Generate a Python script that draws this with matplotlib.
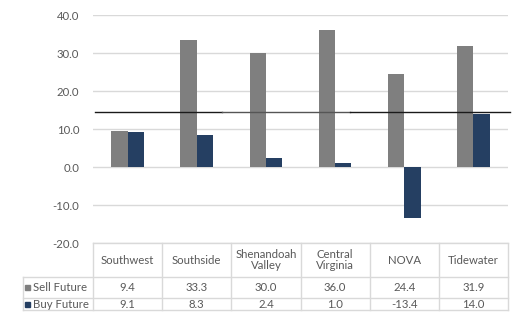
import matplotlib
matplotlib.use("Agg")
import matplotlib.pyplot as plt
import numpy as np
from matplotlib.patches import Rectangle
from matplotlib.lines import Line2D

categories = ["Southwest", "Southside", "Shenandoah\nValley", "Central\nVirginia", "NOVA", "Tidewater"]
sell_future = [9.4, 33.3, 30.0, 36.0, 24.4, 31.9]
buy_future = [9.1, 8.3, 2.4, 1.0, -13.4, 14.0]
series_names = ["Sell Future", "Buy Future"]
reference_level = 14.6
y_ticks = [-20.0, -10.0, 0.0, 10.0, 20.0, 30.0, 40.0]

plt.rcParams['font.family'] = ['Lato', 'DejaVu Sans']

W, H = 523, 323
fig = plt.figure(figsize=(W / 100, H / 100), dpi=100)
fig.patch.set_facecolor("white")

px_left, px_right, px_top, px_bottom = 93, 508, 15, 243
ax = fig.add_axes([px_left / W, 1 - px_bottom / H, (px_right - px_left) / W, (px_bottom - px_top) / H])

sell_color = "#7f7f7f"
buy_color = "#253f62"
grid_color = "#d9d9d9"
text_color = "#595959"

x = np.arange(len(categories))
bw = 0.235
ax.bar(x - bw / 2, sell_future, bw, color=sell_color, zorder=3)
ax.bar(x + bw / 2, buy_future, bw, color=buy_color, zorder=3)

ax.set_xlim(-0.5, len(categories) - 0.5)
ax.set_ylim(-20, 40)
ax.set_yticks(y_ticks)
ax.set_yticklabels([f"{v:.1f}" for v in y_ticks])
ax.set_xticks([])
ax.yaxis.grid(True, color=grid_color, lw=1, zorder=0)
ax.set_axisbelow(True)
for s in ax.spines.values():
    s.set_visible(False)
fs = 8.2
ax.tick_params(axis="y", length=0, pad=10, labelsize=fs, labelcolor=text_color)

# reference line (drawn in segments as in the source)
ax.axhline(reference_level, xmin=0.005, xmax=0.31, color="#1a1a1a", lw=1.0, zorder=4, clip_on=False)
ax.axhline(reference_level, xmin=0.31, xmax=0.62, color="#555555", lw=1.0, zorder=4, clip_on=False)
ax.axhline(reference_level, xmin=0.62, xmax=1.005, color="#1a1a1a", lw=1.0, zorder=4, clip_on=False)

# data table
def ay(py):
    return (px_bottom - py) / (px_bottom - px_top)

def ax_x(px):
    return (px - px_left) / (px_right - px_left)

tbl_top, hdr_bot, row1_bot, row2_bot = 243, 277, 298, 310
lab_left = 23
tr = ax.transAxes
lk = dict(color=grid_color, lw=1, transform=tr, clip_on=False)
ax.add_line(Line2D([0, 1], [ay(tbl_top), ay(tbl_top)], **lk))
for yy in (hdr_bot, row1_bot, row2_bot):
    ax.add_line(Line2D([ax_x(lab_left), 1], [ay(yy), ay(yy)], **lk))
n = len(categories)
for i in range(n + 1):
    ax.add_line(Line2D([i / n, i / n], [ay(tbl_top), ay(row2_bot)], **lk))
ax.add_line(Line2D([ax_x(lab_left), ax_x(lab_left)], [ay(hdr_bot), ay(row2_bot)], **lk))

for i, c in enumerate(categories):
    ax.text((i + 0.5) / n, ay((tbl_top + hdr_bot) / 2), c, transform=tr, ha="center", va="center",
            fontsize=fs, color=text_color, linespacing=1.05)
    ax.text((i + 0.5) / n, ay((hdr_bot + row1_bot) / 2), f"{sell_future[i]:.1f}", transform=tr,
            ha="center", va="center", fontsize=fs, color=text_color)
    ax.text((i + 0.5) / n, ay((row1_bot + row2_bot) / 2), f"{buy_future[i]:.1f}", transform=tr,
            ha="center", va="center", fontsize=fs, color=text_color)

for name, col, (t, b) in zip(series_names, [sell_color, buy_color], [(hdr_bot, row1_bot), (row1_bot, row2_bot)]):
    cy = (t + b) / 2
    fig.add_artist(Rectangle((25 / W, 1 - (cy + 2.5) / H), 5 / W, 5 / H, color=col, transform=fig.transFigure))
    fig.text(33 / W, 1 - cy / H, name, ha="left", va="center", fontsize=fs, color=text_color)

fig.savefig("out.png", dpi=100, facecolor="white")
